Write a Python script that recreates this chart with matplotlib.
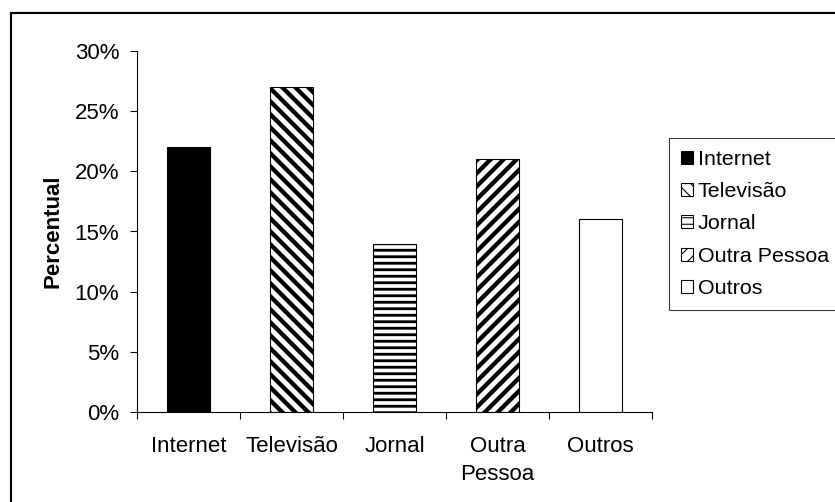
import matplotlib.pyplot as plt
from matplotlib.patches import Rectangle
import numpy as np

categories = ['Internet', 'Televisão', 'Jornal', 'Outra\nPessoa', 'Outros']
legend_names = ['Internet', 'Televisão', 'Jornal', 'Outra Pessoa', 'Outros']
values = [22, 27, 14, 21, 16]
hatches = ['', '\\\\', '--', '//', '']
hatch_lw = [1, 4.0, 2.6, 4.0, 1]
facecolors = ['black', 'white', 'white', 'white', 'white']

DPI = 78
plt.rcParams['font.family'] = ['Liberation Sans', 'DejaVu Sans']
plt.rcParams['font.size'] = 20.5
plt.rcParams['hatch.color'] = 'black'

fig = plt.figure(figsize=(835 / DPI, 502 / DPI), dpi=DPI)
ax = fig.add_axes([137 / 835, 90 / 502, 515 / 835, 361 / 502])

x = np.arange(len(categories))
bars = []
for i in range(len(categories)):
    plt.rcParams['hatch.linewidth'] = hatch_lw[i]
    b = ax.bar(x[i], values[i], width=0.42, color=facecolors[i], edgecolor='black',
               linewidth=1, hatch=hatches[i], label=legend_names[i])
    for p in b.patches:
        try:
            p.set_hatch_linewidth(hatch_lw[i])
        except AttributeError:
            pass
    bars.append(b)

ax.set_xlim(-0.5, 4.5)
ax.set_ylim(0, 30)
ax.set_yticks(range(0, 31, 5))
ax.set_yticklabels([f'{v}%' for v in range(0, 31, 5)])
ax.set_xticks(x)
ax.set_xticklabels(categories, linespacing=1.45)
ax.set_xticks(np.arange(-0.5, 5, 1), minor=True)
ax.tick_params(axis='x', which='major', length=0, pad=22)
ax.tick_params(axis='x', which='minor', length=6, direction='out', width=1)
ax.tick_params(axis='y', length=6.5, direction='out', pad=10, width=1)
for s in ['left', 'bottom']:
    ax.spines[s].set_linewidth(1)
ax.spines['top'].set_visible(False)
ax.spines['right'].set_visible(False)
ax.set_ylabel('Percentual', fontweight='bold', labelpad=10)

leg = fig.legend(handles=[b[0] for b in bars], labels=legend_names,
                 loc='upper left', bbox_to_anchor=(669 / 835, 1 - 138 / 502),
                 frameon=True, fancybox=False, edgecolor='black', fontsize=19.8,
                 handlelength=0.55, handleheight=0.55, handletextpad=0.25,
                 labelspacing=0.62, borderpad=0.55, borderaxespad=0)
leg.get_frame().set_linewidth(1)

# outer frame around the chart
fig.patches.append(Rectangle((11 / 835, -0.05), 1.0, 1 - 13 / 502 + 0.05,
                             transform=fig.transFigure, fill=False,
                             edgecolor='black', linewidth=2))

plt.savefig('out.png', dpi=DPI)
